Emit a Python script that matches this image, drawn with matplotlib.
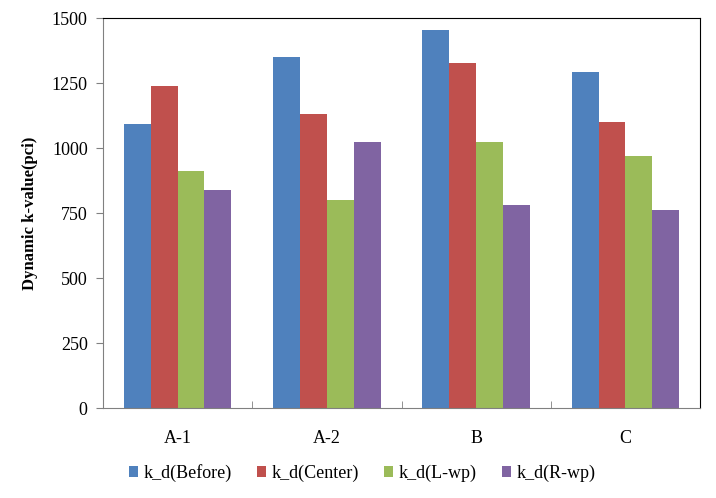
import matplotlib.pyplot as plt
import numpy as np

plt.rcParams['font.family'] = ['Liberation Serif', 'DejaVu Serif']

categories = ['A-1', 'A-2', 'B', 'C']
series_names = ['k_d(Before)', 'k_d(Center)', 'k_d(L-wp)', 'k_d(R-wp)']
before = [1092, 1350, 1454, 1292]
center = [1238, 1130, 1327, 1100]
l_wp = [912, 800, 1023, 969]
r_wp = [838, 1022, 780, 762]
colors = ['#4F81BD', '#C0504D', '#9BBB59', '#8064A2']

fig = plt.figure(figsize=(7.16, 4.98), dpi=100)
ax = fig.add_axes([103 / 716, 90 / 498, 597 / 716, 390 / 498])

x = np.arange(len(categories))
w = 0.18
for i, (vals, name) in enumerate(zip([before, center, l_wp, r_wp], series_names)):
    ax.bar(x + (i - 1.5) * w, vals, w, color=colors[i], label=name, linewidth=0)

ax.set_xlim(-0.5, len(categories) - 0.5)
ax.set_ylim(0, 1500)
ax.set_yticks(range(0, 1501, 250))
ax.set_xticks(x)
ax.set_xticklabels(categories)
ax.set_xticks(np.arange(0.5, len(categories) - 1, 1), minor=True)
ax.tick_params(axis='x', which='major', length=0, pad=16, labelsize=13)
ax.tick_params(axis='x', which='minor', direction='in', length=5, color='#808080')
ax.tick_params(axis='y', length=5, color='#808080', labelsize=13, pad=6)

ax.spines['left'].set_color('#808080')
ax.spines['bottom'].set_color('#808080')
ax.spines['top'].set_color('black')
ax.spines['right'].set_color('black')

ax.set_ylabel('Dynamic k-value(pci)', fontsize=12, fontweight='bold', labelpad=10)

handles, labels = ax.get_legend_handles_labels()
fig.legend(handles, labels, loc='center', bbox_to_anchor=(362 / 716, 1 - 473 / 498), ncol=4,
           frameon=False, fontsize=13, handlelength=0.5, handleheight=0.5,
           handletextpad=0.3, columnspacing=1.4)

fig.savefig('out.png', dpi=100)
